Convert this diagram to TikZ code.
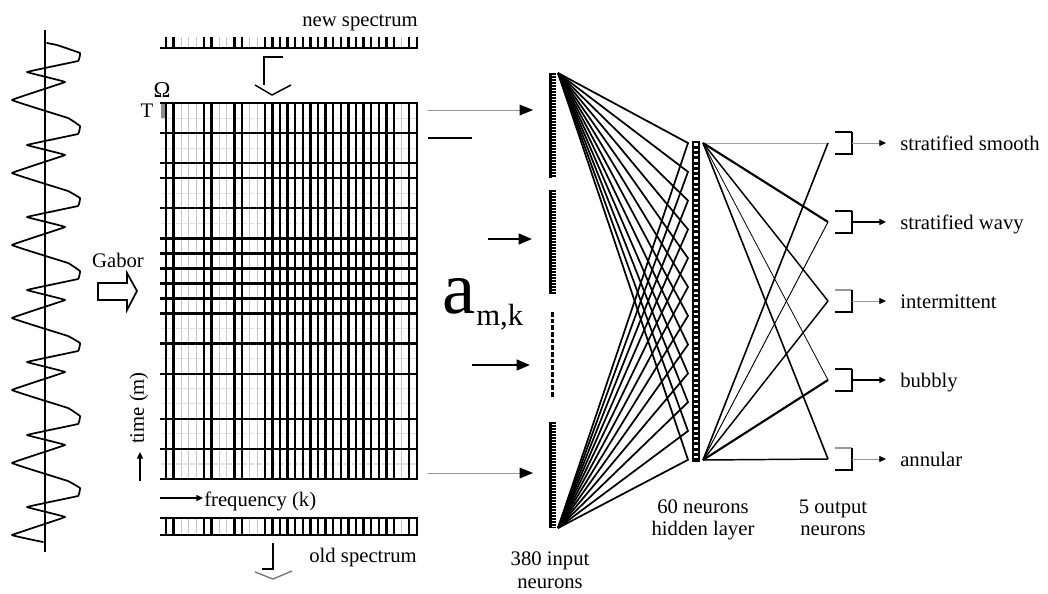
\documentclass[tikz,border=0pt]{standalone}
\usepackage{fontspec}
\setmainfont{Liberation Serif}
\usetikzlibrary{arrows.meta}
\begin{document}
\begin{tikzpicture}[x=0.75pt,y=-0.75pt,
  lbl/.style={font=\fontsize{15.5}{18}\selectfont, inner sep=0pt},
  gblack/.style={line width=1.8pt, black},
  ggrey/.style={line width=1pt, black!22},
  ghgrey/.style={line width=0.8pt, black!12, dash pattern=on 4pt off 1.5pt},
  conn/.style={line width=1.3pt, black},
  bigtip/.style={-{Triangle[length=10pt,width=8pt,color=black]}},
  smalltip/.style={-{Triangle[length=5pt,width=4.5pt,color=black]}},
  wave/.style={line width=1.3pt, black, line join=round, line cap=round}]
\useasboundingbox (0,0) rectangle (1048,593);

% ---------------- waveform ----------------
\coordinate (axtop) at (45,30);
\coordinate (axbot) at (45,552);
\draw[line width=1.6pt] (axtop) -- (axbot);
\draw[wave] plot[smooth, tension=0.08] coordinates {
 (47,43) (57,45) (80,53) (78,61) (27,72) (65,82) (12,100) (68,118)
 (80,126) (78,134) (27,145) (65,155) (12,173) (68,191)
 (80,198) (78,206) (27,217) (65,227) (12,245) (68,263)
 (80,271) (78,279) (27,290) (65,300) (12,318) (68,336)
 (80,343) (78,351) (27,362) (65,372) (12,390) (68,408)
 (80,416) (78,424) (27,435) (65,445) (12,463) (68,481)
 (80,488) (78,496) (27,507) (65,517) (12,535) (43,542)};

% ---------------- Gabor block arrow ----------------
\node[lbl, anchor=base] (gabor) at (118,267) {Gabor};
\draw[line width=1.3pt, line join=miter] (98,283) -- (127,283) -- (127,273) -- (137,291)
  -- (127,310) -- (127,300) -- (98,300) -- cycle;

% ---------------- spectrogram grid ----------------
\foreach \j in {1,3,6,8,15,17,19,20,22,24}
  \draw[ghgrey] (161,{103+15.04*\j}) -- (417,{103+15.04*\j});
\foreach \i in {2,3,4,7,8,11,12,31}
  \draw[ggrey] ({166+7.6*\i},103) -- ({166+7.6*\i},479);
\fill[black!45] (161,103) rectangle (167,118);
\foreach \i in {0,1,5,6,9,10,13,14,15,16,17,18,19,20,21,22,23,24,25,26,27,28,29,30,32,33}
  \draw[gblack] ({166+7.6*\i},103) -- ({166+7.6*\i},479);
\foreach \j in {0,2,4,5,7,9,10,11,12,13,14,16,18,21,23,25}
  \draw[gblack] (160,{103+15.04*\j}) -- (418,{103+15.04*\j});

\node[lbl, anchor=base] (T) at (147,117) {T};
\node[lbl, anchor=base, font=\fontsize{17}{18}\selectfont] (Om) at (162,97) {Ω};

% new spectrum strip
\node[lbl, anchor=base east] (newspec) at (418,26) {new spectrum};
\foreach \i in {2,3,4,7,8,11,12,31}
  \draw[ggrey] ({166+7.6*\i},37) -- ({166+7.6*\i},48);
\foreach \i in {0,1,5,6,9,10,13,14,15,16,17,18,19,20,21,22,23,24,25,26,27,28,29,30,32,33}
  \draw[gblack] ({166+7.6*\i},37) -- ({166+7.6*\i},48);
\draw[gblack] (160,48) -- (418,48);

% arrow from new spectrum
\coordinate (na1) at (283,57);
\coordinate (na2) at (264,57);
\coordinate (na3) at (264,85);
\draw[line width=1.3pt] (na1) -- (na2) -- (na3);
\draw[line width=1.1pt] (255,85) -- (272,95) -- (291,85);

% old spectrum strip
\foreach \i in {2,3,4,7,8,11,12,31}
  \draw[ggrey] ({166+7.6*\i},518) -- ({166+7.6*\i},535);
\foreach \i in {0,1,5,6,9,10,13,14,15,16,17,18,19,20,21,22,23,24,25,26,27,28,29,30,32,33}
  \draw[gblack] ({166+7.6*\i},518) -- ({166+7.6*\i},535);
\draw[gblack] (160,518) -- (418,518);
\draw[gblack] (160,535) -- (418,535);
\node[lbl, anchor=base east] (oldspec) at (417,562) {old spectrum};
\coordinate (oa1) at (273,543);
\coordinate (oa2) at (273,569);
\coordinate (oa3) at (262,569);
\draw[line width=1.3pt] (oa1) -- (oa2) -- (oa3);
\draw[line width=1pt, black!55] (255,572) -- (273,579) -- (292,571);

% axes labels
\coordinate (fa1) at (160,498);
\coordinate (fa2) at (203,498);
\draw[line width=1pt, smalltip] (fa1) -- (fa2);
\node[lbl, anchor=base west] (freq) at (204,506) {frequency (k)};
\coordinate (ta1) at (140,481);
\coordinate (ta2) at (140,452);
\draw[line width=1pt, smalltip] (ta1) -- (ta2);
\node[lbl, rotate=90] (time) at (139,408) {time (m)};

% ---------------- arrows into the input layer ----------------
\coordinate (s1) at (428,110); \coordinate (e1) at (533,110);
\coordinate (s2) at (428,138); \coordinate (e2) at (472,138);
\coordinate (s3) at (488,239); \coordinate (e3) at (532,239);
\coordinate (s4) at (472,365); \coordinate (e4) at (530,365);
\coordinate (s5) at (428,473); \coordinate (e5) at (533,473);
\draw[line width=0.7pt, black!40, bigtip] (s1) -- (e1);
\draw[line width=1.5pt] (s2) -- (e2);
\draw[line width=1.8pt, bigtip] (s3) -- (e3);
\draw[line width=1.8pt, bigtip] (s4) -- (e4);
\draw[line width=0.7pt, black!40, bigtip] (s5) -- (e5);

\node[inner sep=0pt, anchor=base west, font=\fontsize{56}{60}\selectfont] (a) at (442,313) {a};
\node[inner sep=0pt, anchor=base west, font=\fontsize{23}{26}\selectfont] (amk) at (476,325) {m,k};

% ---------------- input layer ----------------
\foreach \a/\b in {73/178,190/294,422/528}{
  \fill (549,\a) rectangle (556,\b);
  \pgfmathtruncatemacro{\n}{(\b-\a-3)/3}
  \foreach \k in {0,...,\n}
    \fill[white] (551.5,{\a+1.6+3*\k}) rectangle (556,{\a+2.8+3*\k});
}
\draw[line width=2.4pt, dash pattern=on 3.5pt off 1.5pt] (552.5,312) -- (552.5,397);
\node[lbl, anchor=base] (inl1) at (550,565) {380 input};
\node[lbl, anchor=base] (inl2) at (550,588) {neurons};

% ---------------- hidden layer ----------------
\fill (692,141) rectangle (700,462);
\foreach \k in {0,...,59}
  \fill[white] (694,{143.3+5.3*\k}) rectangle (698,{145.6+5.3*\k});
\node[lbl, anchor=base] (hl1) at (703,513) {60 neurons};
\node[lbl, anchor=base] (hl2) at (703,535) {hidden layer};

\coordinate (intop) at (558,73);
\coordinate (inbot) at (558,528);
\foreach \j in {0,...,11}{
  \coordinate (hj\j) at (688,{143+28.8*\j});
  \draw[conn, line join=miter] (intop) -- (hj\j) -- (inbot);
}

% ---------------- output layer ----------------
\coordinate (htop) at (703,143);
\coordinate (hbot) at (703,460);
\coordinate (o1) at (828,143);
\coordinate (o2) at (828,222);
\coordinate (o3) at (828,301);
\coordinate (o4) at (828,380);
\coordinate (o5) at (828,459);

\draw[line width=0.6pt, black!35] (htop) -- (o1);
\draw[line width=1.6pt] (htop) -- (o2);
\draw[line width=1.1pt] (htop) -- (o3);
\draw[line width=0.6pt] (htop) -- (o4);
\draw[line width=1.2pt] (htop) -- (o5);
\draw[line width=1.2pt] (hbot) -- (o1);
\draw[line width=0.7pt] (hbot) -- (o2);
\draw[line width=1.1pt] (hbot) -- (o3);
\draw[line width=1.6pt] (hbot) -- (o4);
\draw[line width=1.1pt] (hbot) -- (o5);

\node[lbl, anchor=base] (ol1) at (833,513) {5 output};
\node[lbl, anchor=base] (ol2) at (833,535) {neurons};

\foreach \y/\t/\lw/\col/\tc in {143/stratified smooth/0.6pt/black!40/black,
                           222/stratified wavy/1.8pt/black/black,
                           301/intermittent/0.6pt/black!40/black!40,
                           380/bubbly/1.8pt/black/black,
                           459/annular/0.6pt/black!40/black!40}{
  \coordinate (bt\y) at (835,{\y-11});
  \coordinate (bv\y) at (852,{\y-11});
  \coordinate (bw\y) at (852,{\y+11});
  \coordinate (bb\y) at (835,{\y+11});
  \draw[line width=1.1pt, \tc] (bt\y) -- (bv\y);
  \draw[line width=1.3pt, line join=miter] (bv\y) -- (bw\y) -- (bb\y);
  \coordinate (as\y) at (852,\y);
  \coordinate (ae\y) at (886,\y);
  \draw[line width=\lw, \col, smalltip] (as\y) -- (ae\y);
  \node[lbl, anchor=base west] (lab\y) at (900,{\y+7}) {\t};
}
\end{tikzpicture}
\end{document}
